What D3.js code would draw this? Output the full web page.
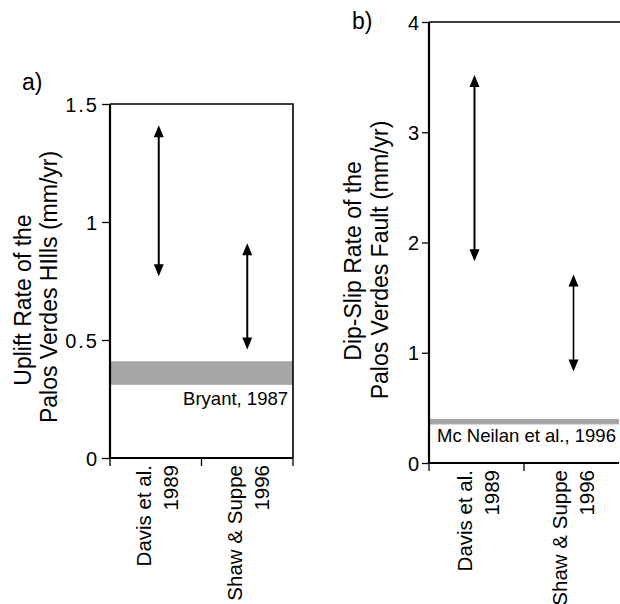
<!DOCTYPE html>
<html>
<head>
<meta charset="utf-8">
<script src="https://cdn.jsdelivr.net/npm/d3@7"></script>
<style>
  html, body { margin: 0; padding: 0; background: #fff; }
  svg { display: block; }
  text { font-family: "Liberation Sans", Arial, Helvetica, sans-serif; fill: #000; }
</style>
</head>
<body>
<svg id="chart" width="620" height="604"></svg>
<script>
// ---------- data ----------
const categories = ["Davis et al.", "Shaw & Suppe"];
const categoryYears = ["1989", "1996"];

// panel a: uplift rate of the Palos Verdes Hills (mm/yr)
const upliftLow = [0.77, 0.46];
const upliftHigh = [1.41, 0.91];
const upliftBand = [0.31, 0.41];
const upliftBandLabel = "Bryant, 1987";
const upliftTicks = [0, 0.5, 1, 1.5];
const upliftTitle = ["Uplift Rate of the", "Palos Verdes HIlls (mm/yr)"];

// panel b: dip-slip rate of the Palos Verdes Fault (mm/yr)
const dipLow = [1.83, 0.83];
const dipHigh = [3.52, 1.71];
const dipBand = [0.35, 0.40];
const dipBandLabel = "Mc Neilan et al., 1996";
const dipTicks = [0, 1, 2, 3, 4];
const dipTitle = ["Dip-Slip Rate of the", "Palos Verdes Fault (mm/yr)"];

const panelLetters = ["a)", "b)"];

// ---------- drawing ----------
const svg = d3.select("#chart");

function arrow(g, x, y1, y2, sw) {
  // y1 = top tip (high value), y2 = bottom tip (low value)
  const hw = 5, hl = 12;
  g.append("line")
    .attr("x1", x).attr("x2", x)
    .attr("y1", y1 + hl - 1).attr("y2", y2 - hl + 1)
    .attr("stroke", "#000").attr("stroke-width", sw);
  g.append("path")
    .attr("d", `M${x},${y1} L${x - hw},${y1 + hl} L${x + hw},${y1 + hl} Z`)
    .attr("fill", "#000");
  g.append("path")
    .attr("d", `M${x},${y2} L${x - hw},${y2 - hl} L${x + hw},${y2 - hl} Z`)
    .attr("fill", "#000");
}

function panel(opts) {
  const g = svg.append("g");
  const x = d3.scaleBand().domain(categories).range([opts.x0, opts.x1]).padding(0);
  const y = d3.scaleLinear().domain(opts.domain).range([opts.y0, opts.y1]);

  // band
  g.append("rect")
    .attr("x", opts.x0)
    .attr("width", opts.x1 - opts.x0)
    .attr("y", y(opts.band[1]))
    .attr("height", y(opts.band[0]) - y(opts.band[1]))
    .attr("fill", "#a6a6a6");

  // band label
  g.append("text")
    .attr("x", opts.bandLabelX)
    .attr("y", opts.bandLabelY)
    .attr("text-anchor", opts.bandLabelAnchor)
    .style("font-size", "18.5px")
    .text(opts.bandLabel);

  // box (top + right)
  g.append("path")
    .attr("d", `M${opts.x0},${opts.y1} H${opts.boxRight}` + (opts.drawRight ? ` V${opts.y0}` : ""))
    .attr("fill", "none").attr("stroke", "#000").attr("stroke-width", 1.6);

  // y axis
  const ya = g.append("g")
    .attr("transform", `translate(${opts.x0},0)`)
    .call(d3.axisLeft(y).tickValues(opts.ticks).tickSize(opts.tickSize)
      .tickPadding(opts.tickPad).tickFormat(d3.format("")));
  ya.select(".domain").attr("stroke-width", 2.2).attr("d", `M0,${opts.y0}V${opts.y1}`);
  ya.selectAll(".tick line").attr("stroke-width", 1.3);
  ya.selectAll(".tick text")
    .style("font-size", "20px")
    .style("font-family", '"Liberation Sans", Arial, sans-serif')
    .attr("dy", "0.35em")
    .each(function (d) {
      if (String(d).length > 1) d3.select(this).style("letter-spacing", "2px").attr("dx", 2);
    });

  // x axis
  const xa = g.append("g")
    .attr("transform", `translate(0,${opts.y0})`)
    .call(d3.axisBottom(x).tickSize(0).tickFormat(""));
  xa.select(".domain").attr("stroke-width", 2.2).attr("d", `M${opts.x0},0H${opts.x1}`);
  xa.selectAll(".tick").remove();
  const bounds = [opts.x0].concat(categories.map(c => x(c) + x.bandwidth()));
  xa.selectAll("line.bound").data(bounds.filter(b => b <= 618)).enter().append("line")
    .attr("class", "bound")
    .attr("x1", d => d).attr("x2", d => d)
    .attr("y1", 0).attr("y2", 8)
    .attr("stroke", "#000").attr("stroke-width", 1.3);

  // category labels (rotated)
  categories.forEach((c, i) => {
    const cx = x(c) + x.bandwidth() / 2;
    const ty = opts.y0 + 7;
    g.append("text")
      .attr("transform", `translate(${cx - 5},${ty}) rotate(-90)`)
      .attr("text-anchor", "end")
      .style("font-size", "20.5px")
      .text(c);
    g.append("text")
      .attr("transform", `translate(${cx + 22},${ty}) rotate(-90)`)
      .attr("text-anchor", "end")
      .style("font-size", "20.5px")
      .text(categoryYears[i]);
  });

  // arrows
  opts.low.forEach((lo, i) => {
    const cx = x(categories[i]) + x.bandwidth() / 2 + opts.arrowShift[i];
    arrow(g, cx, y(opts.high[i]), y(lo), opts.arrowW[i]);
  });

  // axis title
  opts.title.forEach((t, i) => {
    g.append("text")
      .attr("transform", `translate(${opts.titleX[i]},${opts.titleY[i]}) rotate(-90)`)
      .attr("text-anchor", "middle")
      .style("font-size", "23px")
      .text(t);
  });

  // panel letter
  g.append("text")
    .attr("x", opts.letterX).attr("y", opts.letterY)
    .style("font-size", "23px")
    .text(opts.letter);
}

panel({
  x0: 110, x1: 293, y0: 458, y1: 104, boxRight: 293, drawRight: true,
  domain: [0, 1.5], ticks: upliftTicks, tickSize: 8, tickPad: 5,
  band: upliftBand, bandLabel: upliftBandLabel,
  bandLabelX: 288, bandLabelY: 405, bandLabelAnchor: "end",
  low: upliftLow, high: upliftHigh, arrowShift: [3, 0], arrowW: [2, 2],
  title: upliftTitle, titleX: [31, 57], titleY: [300, 287],
  letter: panelLetters[0], letterX: 22, letterY: 90
});

panel({
  x0: 429, x1: 619, y0: 463, y1: 22, boxRight: 620, drawRight: false,
  domain: [0, 4], ticks: dipTicks, tickSize: 7, tickPad: 3,
  band: dipBand, bandLabel: dipBandLabel,
  bandLabelX: 437, bandLabelY: 442, bandLabelAnchor: "start",
  low: dipLow, high: dipHigh, arrowShift: [-2, 2], arrowW: [2, 1.6],
  title: dipTitle, titleX: [361, 388], titleY: [261, 260],
  letter: panelLetters[1], letterX: 352, letterY: 29
});
</script>
</body>
</html>
